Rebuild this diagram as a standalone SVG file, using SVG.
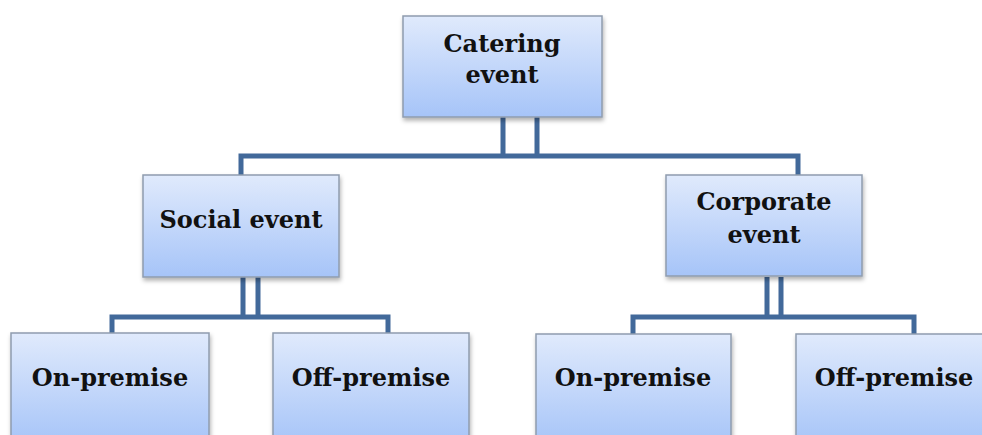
<svg xmlns="http://www.w3.org/2000/svg" width="982" height="435" viewBox="0 0 982 435">
<defs>
<linearGradient id="g" x1="0" y1="0" x2="0" y2="1">
<stop offset="0" stop-color="#e0eafc"/>
<stop offset="1" stop-color="#a6c4f8"/>
</linearGradient>
<filter id="sh" x="-10%" y="-10%" width="120%" height="130%">
<feDropShadow dx="1" dy="3" stdDeviation="2" flood-color="#000" flood-opacity="0.3"/>
</filter>
</defs>
<style>
.box{fill:url(#g);stroke:#8f9cae;stroke-width:1.5;filter:url(#sh)}
.lbl{font-family:"DejaVu Serif","Liberation Serif",serif;font-weight:bold;font-size:24px;fill:#111;text-anchor:middle}
.ln{fill:none;stroke:#42699a;stroke-width:5;stroke-linejoin:miter}
</style>
<rect width="982" height="435" fill="#fff"/>
<g id="connectors">
<path class="ln" d="M503,117 V156 M537,117 V156 M241,175 V156 H798 V175"/>
<path class="ln" d="M243,277 V317 M258,277 V317 M112,333 V317 H388 V333"/>
<path class="ln" d="M767,277 V317 M781,277 V317 M633,334 V317 H914 V334"/>
</g>
<g id="catering">
<rect class="box" x="403" y="16" width="199" height="101"/>
<text class="lbl" x="502" y="52">Catering</text>
<text class="lbl" x="502" y="83">event</text>
</g>
<g id="social">
<rect class="box" x="143" y="175" width="196" height="102"/>
<text class="lbl" x="241" y="228">Social event</text>
</g>
<g id="corporate">
<rect class="box" x="666" y="175" width="196" height="101"/>
<text class="lbl" x="764" y="210">Corporate</text>
<text class="lbl" x="764" y="243">event</text>
</g>
<g id="social-on">
<rect class="box" x="11" y="333" width="198" height="112"/>
<text class="lbl" x="110" y="386">On-premise</text>
</g>
<g id="social-off">
<rect class="box" x="273" y="333" width="196" height="112"/>
<text class="lbl" x="371" y="386">Off-premise</text>
</g>
<g id="corp-on">
<rect class="box" x="536" y="334" width="195" height="112"/>
<text class="lbl" x="633" y="386">On-premise</text>
</g>
<g id="corp-off">
<rect class="box" x="796" y="334" width="196" height="112"/>
<text class="lbl" x="894" y="386">Off-premise</text>
</g>
</svg>
